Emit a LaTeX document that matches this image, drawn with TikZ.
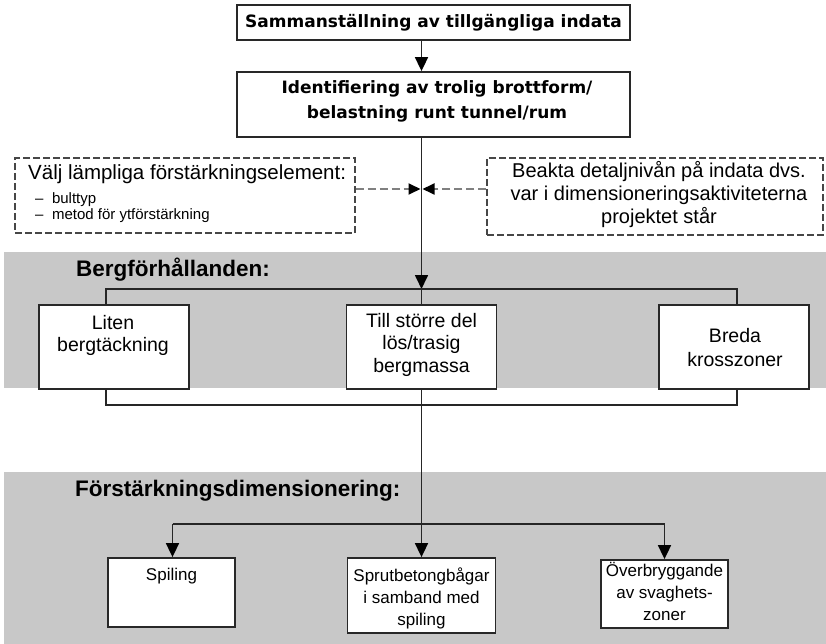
\documentclass[tikz,border=0pt]{standalone}
\usepackage{fontspec}
\setmainfont{Liberation Sans}
\newfontfamily\headfont{DejaVu Sans}
\usetikzlibrary{arrows.meta}
\definecolor{bandgray}{RGB}{200,200,200}
\definecolor{boxline}{RGB}{40,40,40}
\definecolor{dashline}{RGB}{70,70,70}
\definecolor{dasharrow}{RGB}{128,128,128}
\newcommand{\fs}[2]{\fontsize{#1}{#2}\selectfont}
\begin{document}
\begin{tikzpicture}[x=1pt, y=-1pt,
  box/.style={draw=boxline, line width=1.8pt, fill=white, inner sep=0pt},
  dbox/.style={draw=dashline, line width=1.2pt, dash pattern=on 7pt off 3pt, fill=white, inner sep=0pt},
  link/.style={draw=black!85, line width=1.7pt},
  tip/.style={-{Triangle[length=14pt, width=13pt, color=black]}},
  dlink/.style={draw=dasharrow, line width=1.8pt, dash pattern=on 8pt off 4pt, -{Triangle[length=12pt, width=11pt, color=black]}},
  txt/.style={align=center, inner sep=0pt, anchor=base},
  head/.style={font=\fs{22.5}{25}\bfseries, anchor=base west, inner sep=0pt}]
\useasboundingbox (0,0) rectangle (826,644);

% Grey bands
\fill[bandgray] (4,252) rectangle (826,388);
\fill[bandgray] (4,472) rectangle (826,644);

% Junctions
\coordinate (join) at (421.5,189);
\coordinate (barTL) at (106,289);
\coordinate (barTM) at (421.5,289);
\coordinate (barTR) at (737,289);
\coordinate (barBL) at (106,405);
\coordinate (barBR) at (737,405);
\coordinate (barCL) at (172.5,524);
\coordinate (barCR) at (664.5,524);

% Top boxes
\node[box, minimum width=393pt, minimum height=35pt, font=\headfont\fs{17}{20}\bfseries] (sam) at (433.5,22.5) {Sammanställning av tillgängliga indata};
\node[box, minimum width=393pt, minimum height=65pt] (ident) at (433.5,104.5) {};
\node[txt, font=\headfont\fs{17}{25}\bfseries] (identtxt) at (437,119) {Identifiering av trolig brottform/\\belastning runt tunnel/rum};

% Dashed side boxes
\node[dbox, minimum width=340pt, minimum height=75pt] (velj) at (185,195.5) {};
\node[inner sep=0pt, anchor=base west, font=\fs{20.5}{22}] (veljtxt) at (28,180) {Välj lämpliga förstärkningselement:};
\node[inner sep=0pt, anchor=base west, align=left, font=\fs{15}{15.5}] (veljlist) at (35,219) {–\hspace{8.5pt}bulttyp\\–\hspace{8.5pt}metod för ytförstärkning};
\node[dbox, minimum width=336pt, minimum height=77pt] (beakta) at (655,196.5) {};
\node[txt, font=\fs{20}{22.5}] (beaktatxt) at (659,223) {Beakta detaljnivån på indata dvs.\\var i dimensioneringsaktiviteterna\\projektet står};

% Rock conditions
\node[head] (berghead) at (76,276) {Bergförhållanden:};
\node[box, minimum width=150pt, minimum height=84pt] (liten) at (114,347) {};
\node[txt, font=\fs{19.5}{22}] (litentxt) at (113,351) {Liten\\bergtäckning};
\node[box, minimum width=150pt, minimum height=84pt] (lostrasig) at (421.5,347) {};
\node[txt, font=\fs{19.5}{22.5}] (lostrasigtxt) at (421.5,372) {Till större del\\lös/trasig\\bergmassa};
\node[box, minimum width=150pt, minimum height=84pt] (breda) at (734,347) {};
\node[txt, font=\fs{19.5}{24}] (bredatxt) at (735,366) {Breda\\krosszoner};

% Reinforcement design
\node[head] (dimhead) at (75,496.7) {Förstärkningsdimensionering:};
\node[box, minimum width=127pt, minimum height=69pt] (spiling) at (171.5,592.5) {};
\node[txt, font=\fs{17}{22}] (spilingtxt) at (171.5,580) {Spiling};
\node[box, minimum width=148pt, minimum height=75pt] (sprut) at (421.5,595.5) {};
\node[txt, font=\fs{17}{22}] (spruttxt) at (421.5,625) {Sprutbetongbågar\\i samband med\\spiling};
\node[box, minimum width=127pt, minimum height=68pt] (overbr) at (664.5,594) {};
\node[txt, font=\fs{17}{22}] (overbrtxt) at (664.5,620.7) {Överbryggande\\av svaghets-\\zoner};

% Arrows
\draw[link, tip] (sam.south -| join) -- (ident.north -| join);
\draw[link, tip] (ident.south -| join) -- (barTM);
\draw[dlink, shorten >=1pt] (velj.east |- join) -- (join);
\draw[dlink, shorten >=1pt] (beakta.west |- join) -- (join);
\draw[link] (barTL |- liten.north) -- (barTL) -- (barTR) -- (barTR |- breda.north);
\draw[link] (barTM) -- (lostrasig.north);
\draw[link] (barBL |- liten.south) -- (barBL) -- (barBR) -- (barBR |- breda.south);
\draw[link, tip] (lostrasig.south) -- (sprut.north);
\draw[link] (barCL) -- (barCR);
\draw[link, tip] (barCL) -- (barCL |- spiling.north);
\draw[link, tip] (barCR) -- (overbr.north);
\end{tikzpicture}
\end{document}
